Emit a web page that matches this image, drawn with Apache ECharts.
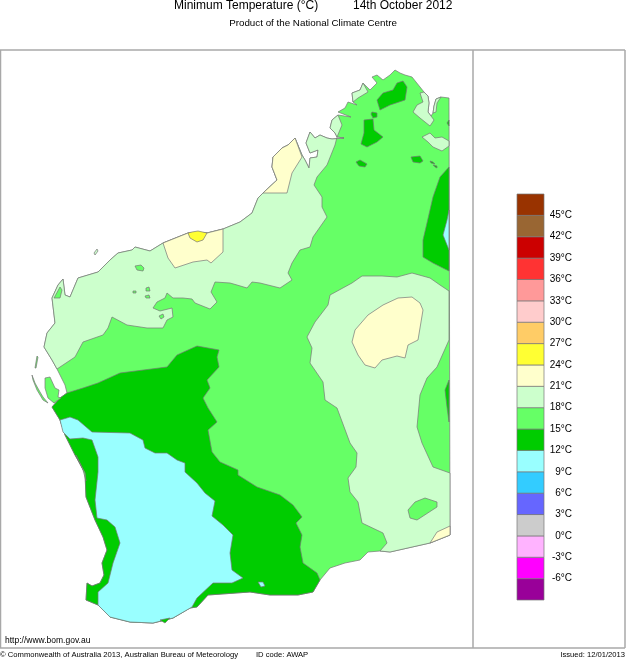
<!DOCTYPE html>
<html lang="en">
<head>
    <meta charset="UTF-8">
    <title>Minimum Temperature</title>
    <script src="https://cdn.jsdelivr.net/npm/echarts@6/dist/echarts.min.js"></script>
    <style>
        html, body { margin: 0; padding: 0; background: #fff; }
    </style>
</head>
<body>
<div id="main" style="width: 626px;height:659px;"></div>
<script>
    // colour scale, low edge of every 3 degree band
    var bandLow = [-9, -6, -3, 0, 3, 6, 9, 12, 15, 18, 21, 24, 27, 30, 33, 36, 39, 42, 45];
    var bandColors = ['#990099', '#ff00ff', '#ffb3ff', '#cccccc', '#6666ff', '#33ccff', '#99ffff', '#00cc00', '#66ff66',
        '#ccffcc', '#ffffcc', '#ffff33', '#ffcc66', '#ffcccc', '#ff9999', '#ff3333', '#cc0000', '#996633', '#993300'];

    // coastline, in map units
    var coastKimberley = [[449, 98], [441, 97], [436, 99], [434, 106], [433, 113], [431, 116], [428, 112], [429, 103], [428, 96],
        [424, 92], [420, 87], [412, 77], [405, 75], [400, 73], [395, 70], [390, 75], [383, 80], [377, 75], [372, 77], [377, 83],
        [370, 90], [363, 83], [360, 90], [352, 93], [353, 102], [357, 105], [348, 102], [345, 108], [338, 112], [351, 117],
        [338, 115], [332, 120], [330, 128], [335, 133], [337, 137]];
    var coastPilbara = [[337, 137], [344, 138], [332, 139], [327, 138], [320, 135], [315, 138], [310, 132], [306, 143], [310, 153],
        [318, 150], [317, 157], [310, 158], [309, 168], [305, 160], [302, 155], [295, 138], [288, 145], [282, 148], [273, 157],
        [272, 167], [277, 180], [263, 193], [258, 198], [252, 213], [240, 222], [223, 229], [207, 233], [188, 233], [163, 243],
        [150, 251], [135, 247], [132, 250], [118, 253], [110, 260], [98, 272], [78, 278], [70, 297], [65, 295], [63, 279],
        [58, 285], [52, 298], [55, 323], [47, 333], [44, 347], [52, 360], [57, 369]];
    var coastGascoyne = [[57, 369], [65, 385], [67, 393]];
    var coastWest = [[67, 393], [60, 398], [52, 407], [60, 420], [65, 435], [75, 455], [85, 473], [86, 497], [95, 520], [103, 537],
        [107, 550], [102, 563], [104, 575], [100, 583], [92, 586], [87, 583], [86, 600], [98, 605], [110, 617], [130, 622],
        [153, 623], [173, 618], [190, 608], [197, 607], [208, 595], [250, 592], [270, 595], [298, 595], [313, 592], [320, 580]];
    var coastBight = [[320, 580], [330, 568], [345, 563], [360, 560], [368, 552], [380, 551]];
    var coastEucla = [[380, 551], [390, 552], [430, 543], [450, 535]];

    // isotherm edges that run inland
    var edge21West = [[57, 369], [75, 357], [83, 342], [103, 335], [108, 328], [112, 317], [127, 325], [147, 328], [163, 328],
        [167, 320], [173, 317], [172, 308], [160, 311], [153, 308], [157, 302], [165, 298], [167, 293], [173, 298], [183, 298],
        [192, 299], [195, 303], [210, 309], [217, 302], [211, 292], [215, 282], [230, 283], [237, 285], [247, 288], [252, 282],
        [260, 283], [280, 288], [292, 280], [288, 273], [292, 263], [300, 250], [310, 247], [313, 237], [320, 227], [327, 217],
        [322, 207], [322, 197], [314, 185], [317, 177], [327, 165], [335, 145], [337, 137]];
    var edge15West = [[320, 580], [317, 573], [303, 563], [300, 547], [302, 535], [296, 523], [302, 517], [293, 505], [280, 495],
        [257, 487], [238, 475], [238, 470], [220, 462], [212, 452], [208, 430], [217, 422], [208, 408], [203, 398], [210, 388],
        [207, 380], [219, 367], [217, 357], [219, 350], [197, 346], [177, 355], [167, 367], [120, 373], [98, 383], [83, 388], [67, 393]];
    var edge21East = [[450, 535], [450, 473], [433, 467], [422, 443], [417, 427], [420, 395], [427, 378], [437, 367], [449, 340],
        [449, 291], [440, 285], [430, 278], [412, 273], [397, 277], [382, 276], [362, 276], [352, 283], [330, 295], [328, 305],
        [315, 322], [307, 337], [312, 348], [310, 363], [323, 382], [325, 400], [337, 408], [350, 443], [357, 453], [356, 467],
        [348, 478], [350, 492], [358, 502], [362, 523], [383, 533], [387, 543], [380, 551]];

    // closed patches
    var broomeWarm = [[295, 138], [288, 145], [282, 148], [273, 157], [272, 167], [277, 180], [263, 193], [287, 193], [292, 173], [302, 157]];
    var onslowWarm = [[223, 229], [207, 233], [188, 233], [163, 243], [168, 258], [175, 268], [193, 262], [207, 260], [211, 263], [223, 252]];
    var onslowHot = [[188, 233], [192, 232], [198, 231], [207, 233], [203, 240], [197, 242], [190, 238]];
    var interiorWarm = [[412, 297], [420, 303], [423, 310], [418, 340], [408, 345], [405, 358], [397, 356], [382, 360], [375, 368],
        [365, 365], [358, 355], [352, 342], [355, 330], [368, 315], [383, 305], [398, 298]];
    var euclaWarm = [[430, 543], [437, 532], [450, 526], [450, 535]];
    var interiorHole = [[425, 498], [437, 502], [437, 507], [417, 520], [410, 518], [408, 510], [415, 502]];
    var gulfCool = [[420, 93], [423, 102], [417, 105], [413, 112], [420, 118], [430, 126], [434, 120], [431, 116], [428, 112], [429, 103], [428, 96], [424, 92]];
    var gulfCoolEast = [[434, 106], [436, 99], [441, 97], [437, 103], [436, 112], [433, 113]];
    var ordCool = [[422, 137], [430, 133], [435, 138], [442, 137], [449, 141], [449, 146], [442, 151], [433, 147], [428, 142]];
    var capeCool = [[338, 115], [332, 120], [330, 128], [335, 133], [337, 137], [342, 125]];
    var coastCool = [[352, 93], [353, 102], [358, 98], [368, 92], [363, 83], [360, 90]];
    var coldNorth1 = [[403, 81], [407, 87], [405, 100], [390, 105], [380, 110], [377, 100], [383, 93], [393, 90], [397, 83]];
    var coldNorth2 = [[372, 112], [377, 113], [377, 117], [373, 118], [371, 114]];
    var coldNorth3 = [[364, 120], [373, 119], [374, 130], [383, 137], [377, 142], [367, 147], [361, 144], [364, 133]];
    var coldNorth4 = [[356, 162], [360, 160], [367, 164], [365, 167], [359, 166]];
    var coldNorth5 = [[411, 157], [420, 156], [423, 161], [420, 163], [413, 162]];
    var coldNorth6 = [[430, 161], [433, 162], [435, 164], [431, 163]];
    var coldNorth7 = [[433, 165], [437, 166], [437, 168], [435, 167]];
    var coldNorth8 = [[449, 120], [447, 123], [449, 126]];
    var coldEast = [[449, 167], [440, 177], [433, 197], [427, 223], [423, 240], [423, 257], [433, 263], [449, 271]];
    var coldEast2 = [[449, 380], [445, 390], [447, 407], [449, 422]];
    var colderEast = [[449, 210], [447, 220], [443, 235], [449, 250]];
    var colderSouth = [[60, 420], [70, 417], [78, 420], [92, 432], [130, 433], [143, 440], [145, 448], [155, 453], [167, 453], [177, 460],
        [185, 463], [185, 472], [197, 483], [205, 493], [215, 501], [212, 516], [223, 525], [233, 535], [230, 553], [232, 570],
        [243, 578], [232, 583], [213, 583], [197, 598], [192, 607], [173, 618], [153, 623], [130, 622], [110, 617], [98, 605],
        [98, 592], [108, 583], [113, 563], [120, 543], [115, 527], [107, 520], [97, 518], [95, 500], [98, 472], [98, 457], [92, 440],
        [83, 438], [70, 439], [63, 432]];
    var colderSmall = [[258, 582], [263, 582], [265, 586], [261, 587]];
    var coldCape = [[160, 620], [170, 618], [165, 623]];
    var mildWestStrip = [[76, 455], [85, 473], [86, 481], [83, 470]];
    var mildPatch1 = [[135, 266], [141, 265], [144, 268], [143, 271], [137, 270]];
    var mildPatch2 = [[146, 288], [149, 287], [150, 291], [146, 291]];
    var mildPatch3 = [[145, 296], [149, 295], [150, 298], [146, 298]];
    var mildPatch4 = [[133, 291], [136, 291], [136, 293], [133, 293]];
    var mildPatch5 = [[159, 316], [163, 314], [164, 317], [161, 319]];
    var mildCape = [[60, 287], [62, 290], [60, 298], [54, 298]];
    var mildIsland1 = [[32, 375], [35, 383], [40, 392], [43, 397], [48, 403], [43, 400], [37, 390], [33, 380]];
    var mildIsland2 = [[45, 378], [50, 377], [55, 388], [59, 390], [58, 397], [61, 398], [54, 403], [48, 398], [45, 388]];
    var mildIsland3 = [[37, 356], [38, 357], [36, 368], [35, 368]];
    var barrowCool = [[97, 249], [98, 251], [95, 255], [94, 253]];

    var land = coastKimberley.concat(coastPilbara, coastGascoyne, coastWest, coastBight, coastEucla);

    // painted in this order, later ones on top
    var areas = [
        [land, 15],
        [coastPilbara.concat(edge21West), 18],
        [coastWest.concat(edge15West), 12],
        [coastEucla.concat(edge21East), 18],
        [broomeWarm, 21], [onslowWarm, 21], [onslowHot, 24], [interiorWarm, 21], [euclaWarm, 21],
        [interiorHole, 15],
        [gulfCool, 18], [gulfCoolEast, 18], [ordCool, 18], [capeCool, 18], [coastCool, 18], [barrowCool, 18],
        [coldNorth1, 12], [coldNorth2, 12], [coldNorth3, 12], [coldNorth4, 12], [coldNorth5, 12], [coldNorth6, 12],
        [coldNorth7, 12], [coldNorth8, 12], [coldEast, 12], [coldEast2, 12],
        [colderEast, 9], [colderSouth, 9], [colderSmall, 9], [coldCape, 12],
        [mildWestStrip, 15], [mildPatch1, 15], [mildPatch2, 15], [mildPatch3, 15], [mildPatch4, 15], [mildPatch5, 15],
        [mildCape, 15], [mildIsland1, 15], [mildIsland2, 15], [mildIsland3, 15]
    ];

    var mychart = echarts.init(document.getElementById('main'));
    var font = '"Liberation Sans", Arial, sans-serif';

    function label(x, y, text, size, align) {
        return {
            type: 'text', x: x, y: y, silent: true,
            style: {text: text, fill: '#000', font: size + 'px ' + font, textAlign: align || 'left', textVerticalAlign: 'middle'}
        };
    }

    function frameLine(x1, y1, x2, y2) {
        return {
            type: 'line', silent: true, shape: {x1: x1, y1: y1, x2: x2, y2: y2},
            style: {stroke: '#a8a8a8', lineWidth: 1.5}
        };
    }

    var option = {
        animation: false,
        backgroundColor: '#fff',
        graphic: [
            frameLine(0, 50, 625, 50), frameLine(0, 648, 625, 648), frameLine(0.5, 50, 0.5, 648),
            frameLine(473, 50, 473, 648), frameLine(625, 50, 625, 648),
            label(174, 6, 'Minimum Temperature (°C)', 12),
            label(353, 6, '14th October 2012', 12),
            label(313, 23, 'Product of the National Climate Centre', 9.8, 'center'),
            label(5, 641, 'http://www.bom.gov.au', 8.5),
            label(0, 655, '© Commonwealth of Australia 2013, Australian Bureau of Meteorology', 7.65),
            label(256, 655, 'ID code: AWAP', 7.6),
            label(625, 655, 'Issued: 12/01/2013', 7.6, 'right')
        ],
        grid: [
            {left: 0, top: 0, width: 626, height: 659},
            {left: 517, top: 194, width: 27, height: 406}
        ],
        xAxis: [
            {gridIndex: 0, type: 'value', min: 0, max: 626, show: false},
            {gridIndex: 1, type: 'value', min: 0, max: 1, show: false}
        ],
        yAxis: [
            {gridIndex: 0, type: 'value', min: 0, max: 659, inverse: true, show: false},
            {
                gridIndex: 1, type: 'value', min: -9, max: 48, interval: 3, position: 'right',
                axisLine: {show: false}, axisTick: {show: false}, splitLine: {show: false},
                axisLabel: {
                    align: 'right', margin: 28, color: '#000', fontSize: 10, fontFamily: font,
                    formatter: function (v) {
                        return (v === -9 || v === 48) ? '' : v + '°C';
                    }
                }
            }
        ],
        series: [
            {
                type: 'custom', xAxisIndex: 0, yAxisIndex: 0, silent: true, clip: false,
                data: areas.map(function (a, i) { return [i, 0]; }),
                renderItem: function (params, api) {
                    var area = areas[params.dataIndex];
                    return {
                        type: 'polygon',
                        shape: {points: area[0].map(function (p) { return api.coord(p); })},
                        style: {fill: bandColors[bandLow.indexOf(area[1])], stroke: '#777', lineWidth: 0.7}
                    };
                }
            },
            {
                type: 'custom', xAxisIndex: 1, yAxisIndex: 1, silent: true,
                data: bandLow.map(function (low) { return [0, low]; }),
                renderItem: function (params, api) {
                    var a = api.coord([0, api.value(1) + 3]);
                    var b = api.coord([1, api.value(1)]);
                    return {
                        type: 'rect',
                        shape: {x: a[0], y: a[1], width: b[0] - a[0], height: b[1] - a[1]},
                        style: {fill: bandColors[params.dataIndex], stroke: '#777', lineWidth: 0.7}
                    };
                }
            }
        ]
    };

    mychart.setOption(option);
</script>
</body>
</html>
